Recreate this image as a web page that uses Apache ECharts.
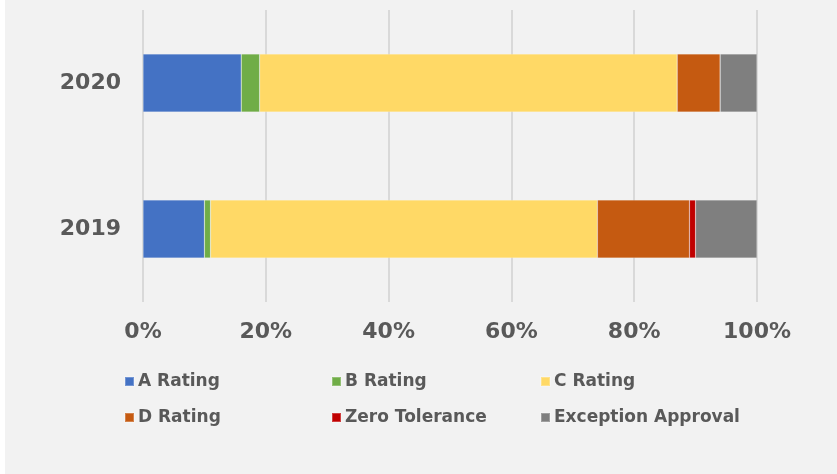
<!DOCTYPE html>
<html>
<head>
<meta charset="utf-8">
<script src="https://cdn.jsdelivr.net/npm/echarts@6/dist/echarts.min.js"></script>
<style>
  html, body { margin: 0; padding: 0; background: #ffffff; }
  #chart { position: absolute; left: 5px; top: 0; width: 832px; height: 474px; background: #f2f2f2; }
</style>
</head>
<body>
<div id="chart"></div>
<script>
// categories, bottom to top
var years = ["2019", "2020"];
var seriesNames = ["A Rating", "B Rating", "C Rating", "D Rating", "Zero Tolerance", "Exception Approval"];
var colors = ["#4472c4", "#70ad47", "#ffd966", "#c55a11", "#c00000", "#7f7f7f"];

// share in % per year (2019, 2020)
var aRating = [10, 16];
var bRating = [1, 3];
var cRating = [63, 68];
var dRating = [15, 7];
var zeroTolerance = [1, 0];
var exceptionApproval = [10, 6];

var values = [aRating, bRating, cRating, dRating, zeroTolerance, exceptionApproval];

var textColor = "#595959";
var fontFam = "DejaVu Sans";

var chart = echarts.init(document.getElementById("chart"));

// legend laid out as a 3x2 grid, one legend per item
var legendPos = [
  { left: 119, top: 373 }, { left: 326, top: 373 }, { left: 535, top: 373 },
  { left: 119, top: 409 }, { left: 326, top: 409 }, { left: 535, top: 409 }
];
var legends = seriesNames.map(function (name, i) {
  return {
    data: [name],
    left: legendPos[i].left,
    top: legendPos[i].top,
    padding: 0,
    icon: "rect",
    itemWidth: 9,
    itemHeight: 9,
    itemGap: 0,
    textStyle: { color: textColor, fontSize: 17, fontWeight: "bold", fontFamily: fontFam, padding: [0, 0, 0, -1] }
  };
});

chart.setOption({
  animation: false,
  color: colors,
  legend: legends,
  grid: { left: 138, right: 80, top: 10, bottom: 172 },
  xAxis: {
    type: "value",
    min: 0,
    max: 100,
    interval: 20,
    axisLine: { show: false },
    axisTick: { show: false },
    splitLine: { lineStyle: { color: "#d9d9d9", width: 2 } },
    axisLabel: {
      formatter: "{value}%",
      color: textColor,
      fontSize: 22,
      fontWeight: "bold",
      fontFamily: fontFam,
      margin: 19
    }
  },
  yAxis: {
    type: "category",
    data: years,
    axisLine: { show: false },
    axisTick: { show: false },
    axisLabel: {
      color: textColor,
      fontSize: 22,
      fontWeight: "bold",
      fontFamily: fontFam,
      margin: 22
    }
  },
  series: seriesNames.map(function (name, i) {
    return {
      name: name,
      type: "bar",
      stack: "total",
      barWidth: 58,
      itemStyle: { borderColor: "rgba(255,255,255,0.25)", borderWidth: 0.6 },
      data: values[i]
    };
  })
});
</script>
</body>
</html>
